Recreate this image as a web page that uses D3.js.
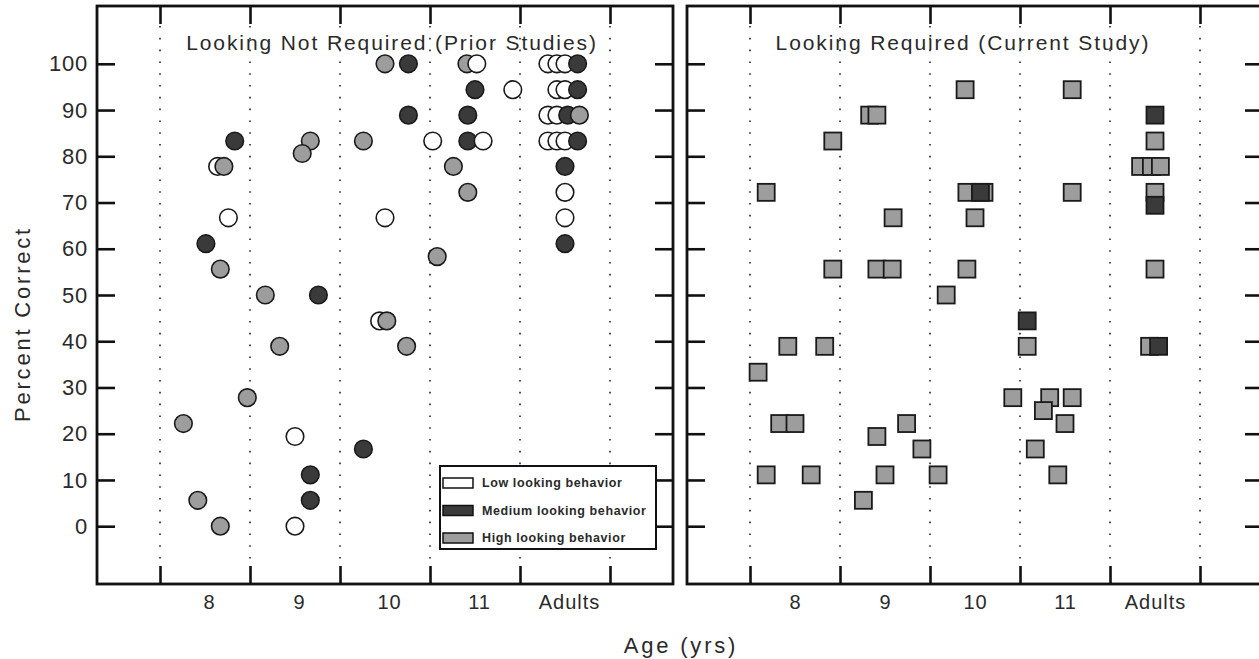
<!DOCTYPE html>
<html>
<head>
<meta charset="utf-8">
<script src="https://cdn.jsdelivr.net/npm/d3@7"></script>
<style>
  body { margin: 0; background: #fff; }
  text { font-family: "Liberation Sans", Arial, sans-serif; fill: #2a2a2a; }
</style>
</head>
<body>
<div id="chart"></div>
<script>
// categories / ticks
var ageTicks = [8, 9, 10, 11, 12]
var ageLabels = ["8", "9", "10", "11", "Adults"]
var ageBounds = [7.5, 8.5, 9.5, 10.5, 11.5, 12.5]
var pctTicks = [0, 10, 20, 30, 40, 50, 60, 70, 80, 90, 100]
var levelKeys = ["L", "M", "H"]
var levelNames = ["Low looking behavior", "Medium looking behavior", "High looking behavior"]
var panelTitles = ["Looking Not Required (Prior Studies)", "Looking Required (Current Study)"]

// prior studies (circles)
var priorAge = [8.33, 8.14, 8.21, 8.26, 8.01, 8.17, 8.47, 7.76, 7.92, 8.17,
  8.67, 9.26, 9.17, 9.08, 8.83, 9.0, 9.17, 9.17, 9.0,
  10.0, 10.26, 10.26, 9.76, 10.0, 9.94, 10.02, 10.24, 9.76, 10.53,
  10.91, 11.02, 11.0, 11.42, 10.92, 10.92, 11.09, 10.76, 10.92, 10.58,
  11.81, 11.91, 12.0, 12.14, 11.91, 12.0, 12.14, 11.81, 11.91, 12.03, 12.16,
  11.81, 11.91, 12.0, 12.14, 12.0, 12.0, 12.0, 12.0]
var priorPct = [83.3, 77.8, 77.8, 66.7, 61.1, 55.6, 27.8, 22.2, 5.6, 0,
  50, 50, 83.3, 80.6, 38.9, 19.4, 11.1, 5.6, 0,
  100, 100, 88.9, 83.3, 66.7, 44.4, 44.4, 38.9, 16.7, 83.3,
  100, 100, 94.4, 94.4, 88.9, 83.3, 83.3, 77.8, 72.2, 58.3,
  100, 100, 100, 100, 94.4, 94.4, 94.4, 88.9, 88.9, 88.9, 88.9,
  83.3, 83.3, 83.3, 83.3, 77.8, 72.2, 66.7, 61.1]
var priorLevel = ["M", "L", "H", "L", "M", "H", "H", "H", "H", "H",
  "H", "M", "H", "H", "H", "L", "M", "M", "L",
  "H", "M", "M", "H", "L", "L", "H", "H", "M", "L",
  "H", "L", "M", "L", "M", "M", "L", "H", "H", "H",
  "L", "L", "L", "M", "L", "L", "M", "L", "L", "M", "H",
  "L", "L", "L", "M", "M", "L", "L", "M"]

// current study (squares)
var currentAge = [7.68, 8.42, 8.42, 7.92, 8.33, 7.59, 7.83, 8.0, 7.68, 8.18,
  8.83, 8.91, 9.09, 8.91, 9.08, 8.91, 9.24, 9.41, 9.0, 8.76,
  9.89, 9.91, 10.1, 10.06, 10.0, 9.91, 9.68, 9.59, 10.42,
  11.08, 11.08, 10.58, 10.58, 10.83, 11.08, 10.76, 11.0, 10.67, 10.92,
  12.0, 12.0, 11.84, 11.96, 12.06, 12.0, 12.0, 12.0, 11.94, 12.04]
var currentPct = [72.2, 83.3, 55.6, 38.9, 38.9, 33.3, 22.2, 22.2, 11.1, 11.1,
  88.9, 88.9, 66.7, 55.6, 55.6, 19.4, 22.2, 16.7, 11.1, 5.6,
  94.4, 72.2, 72.2, 72.2, 66.7, 55.6, 50, 11.1, 27.8,
  94.4, 72.2, 44.4, 38.9, 27.8, 27.8, 25.0, 22.2, 16.7, 11.1,
  88.9, 83.3, 77.8, 77.8, 77.8, 72.2, 69.4, 55.6, 38.9, 38.9]
var currentLevel = ["H", "H", "H", "H", "H", "H", "H", "H", "H", "H",
  "H", "H", "H", "H", "H", "H", "H", "H", "H", "H",
  "H", "H", "H", "M", "H", "H", "H", "H", "H",
  "H", "H", "M", "H", "H", "H", "H", "H", "H", "H",
  "M", "H", "H", "H", "H", "H", "M", "H", "H", "M"]

var fills = { L: "#ffffff", M: "#3a3a3a", H: "#9d9d9d" }

var width = 1259, height = 659
var panelW = 576
var margin = { top: 6, bottom: 75 }
var panelX = [97, 687]

var svg = d3.select("#chart")
  .append("svg")
  .attr("width", width)
  .attr("height", height)

var x = d3.scaleLinear().domain([6.8, 13.2]).range([0, panelW])
var y = d3.scaleLinear().domain([-12.5, 112.5]).range([height - margin.bottom, margin.top])

function panel(idx, ages, pcts, levels, shape) {
  var g = svg.append("g")
    .attr("transform", "translate(" + panelX[idx] + ",0)")

  // dotted age separators
  g.selectAll(".sep")
    .data(ageBounds)
    .enter().append("line")
    .attr("class", "sep")
    .attr("x1", d => x(d)).attr("x2", d => x(d))
    .attr("y1", y.range()[1] + 20).attr("y2", y.range()[0] - 18)
    .attr("stroke", "#222")
    .attr("stroke-width", 1.6)
    .attr("stroke-dasharray", "1.6,10.2")

  // inward ticks: top / bottom
  var bottomAxis = d3.axisBottom(x).tickValues(ageBounds).tickSizeInner(-18).tickSizeOuter(0).tickFormat("")
  var topAxis = d3.axisTop(x).tickValues(ageBounds).tickSizeInner(-18).tickSizeOuter(0).tickFormat("")
  g.append("g").attr("transform", "translate(0," + y.range()[0] + ")").call(bottomAxis)
  g.append("g").attr("transform", "translate(0," + y.range()[1] + ")").call(topAxis)

  // y ticks on both sides
  var leftAxis = d3.axisLeft(y).tickValues(pctTicks).tickSizeInner(-18).tickSizeOuter(0).tickPadding(9)
  if (idx == 1) leftAxis.tickFormat("")
  var rightAxis = d3.axisRight(y).tickValues(pctTicks).tickSizeInner(-18).tickSizeOuter(0).tickFormat("")
  var gl = g.append("g").call(leftAxis)
  g.append("g").attr("transform", "translate(" + panelW + ",0)").call(rightAxis)
  gl.selectAll("text").attr("font-size", 22).attr("letter-spacing", 0.8).style("font-family", null)

  g.selectAll(".domain").remove()
  g.selectAll(".tick line").attr("stroke", "#111").attr("stroke-width", 2.6)

  // category labels
  var catAxis = d3.axisBottom(x).tickValues(ageTicks).tickSize(0).tickPadding(0)
    .tickFormat((d, i) => ageLabels[i])
  var gc = g.append("g").attr("transform", "translate(" + (idx == 0 ? 4 : 0) + "," + (y.range()[0] + 11) + ")").call(catAxis)
  gc.select(".domain").remove()
  gc.selectAll("text").attr("font-size", 20).attr("letter-spacing", 1).style("font-family", null)

  // title
  g.append("text")
    .attr("x", idx == 0 ? 295 : 276)
    .attr("y", 50)
    .attr("text-anchor", "middle")
    .attr("font-size", 21)
    .attr("letter-spacing", 1.9)
    .text(panelTitles[idx])

  // points
  var pts = ages.map((a, i) => ({ age: a, pct: pcts[i], level: levels[i] }))
  if (shape == "circle") {
    g.selectAll(".pt")
      .data(pts)
      .enter().append("circle")
      .attr("class", "pt")
      .attr("cx", d => x(d.age))
      .attr("cy", d => y(d.pct))
      .attr("r", 8.8)
      .attr("fill", d => fills[d.level])
      .attr("stroke", "#1a1a1a")
      .attr("stroke-width", 1.6)
  } else {
    var s = 17
    g.selectAll(".pt")
      .data(pts)
      .enter().append("rect")
      .attr("class", "pt")
      .attr("x", d => x(d.age) - s / 2)
      .attr("y", d => y(d.pct) - s / 2)
      .attr("width", s).attr("height", s)
      .attr("fill", d => fills[d.level])
      .attr("stroke", "#1a1a1a")
      .attr("stroke-width", 1.8)
  }

  // frame
  g.append("rect")
    .attr("x", 0).attr("y", y.range()[1])
    .attr("width", panelW).attr("height", y.range()[0] - y.range()[1])
    .attr("fill", "none")
    .attr("stroke", "#111")
    .attr("stroke-width", 2.8)

  return g
}

var left = panel(0, priorAge, priorPct, priorLevel, "circle")
panel(1, currentAge, currentPct, currentLevel, "square")

// legend
var legend = left.append("g").attr("transform", "translate(343,466)")
legend.append("rect")
  .attr("width", 216).attr("height", 83)
  .attr("fill", "#fff")
  .attr("stroke", "#111")
  .attr("stroke-width", 2)
var rows = legend.selectAll(".row")
  .data(levelKeys)
  .enter().append("g")
  .attr("class", "row")
  .attr("transform", (d, i) => "translate(3," + (17 + i * 27.5) + ")")
rows.append("rect")
  .attr("y", -5).attr("width", 30).attr("height", 10)
  .attr("fill", d => fills[d])
  .attr("stroke", "#111")
  .attr("stroke-width", 1.5)
rows.append("text")
  .attr("x", 39).attr("dy", "0.35em")
  .attr("font-size", 12.5)
  .attr("font-weight", "bold")
  .attr("letter-spacing", 0.6)
  .text((d, i) => levelNames[i])

// axis titles
svg.append("text")
  .attr("x", 681).attr("y", 653)
  .attr("text-anchor", "middle")
  .attr("font-size", 22)
  .attr("letter-spacing", 2.8)
  .text("Age (yrs)")

svg.append("text")
  .attr("transform", "translate(30,324) rotate(-90)")
  .attr("text-anchor", "middle")
  .attr("font-size", 22)
  .attr("letter-spacing", 2.8)
  .text("Percent Correct")
</script>
</body>
</html>
